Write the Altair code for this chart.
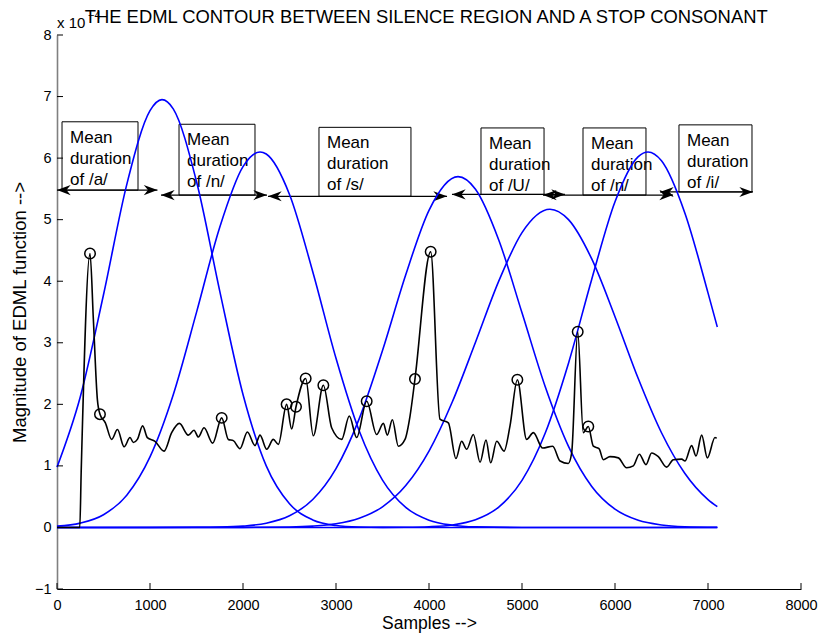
import altair as alt
import pandas as pd

FONT = "Liberation Sans"

# ---------------- data ----------------
# Blue window curves (x in samples, y in units of 1e-4)
c1_x = [0, 250, 500, 750, 1000, 1129, 1250, 1500, 1750, 2000, 2250, 2500, 2750, 3000, 3250, 3500, 4000, 5000, 7100]
c1_y = [0.98, 2.12, 3.78, 5.57, 6.77, 6.95, 6.80, 5.62, 3.84, 2.16, 1.00, 0.385, 0.122, 0.032, 0.007, 0.001, 0, 0, 0]
c2_x = [0, 250, 500, 750, 1000, 1250, 1500, 1750, 2000, 2183, 2250, 2500, 2750, 3000, 3250, 3500, 3750, 4000, 4250, 4500, 5000, 7100]
c2_y = [0.021, 0.070, 0.207, 0.525, 1.147, 2.157, 3.494, 4.876, 5.861, 6.10, 6.067, 5.410, 4.155, 2.748, 1.566, 0.769, 0.325, 0.118, 0.037, 0.010, 0, 0]
c3_x = [0, 1000, 1500, 1750, 2000, 2250, 2500, 2750, 3000, 3250, 3500, 3750, 4000, 4312, 4500, 4750, 5000, 5250, 5500, 5750, 6000, 6250, 6500, 6750, 7100]
c3_y = [0, 0, 0.002, 0.006, 0.022, 0.069, 0.189, 0.453, 0.955, 1.768, 2.875, 4.106, 5.152, 5.70, 5.495, 4.671, 3.487, 2.286, 1.317, 0.666, 0.296, 0.115, 0.040, 0.012, 0.002]
c4_x = [0, 2000, 2500, 2750, 3000, 3250, 3500, 3750, 4000, 4250, 4500, 4750, 5000, 5301, 5500, 5750, 6000, 6250, 6500, 6750, 7000, 7100]
c4_y = [0, 0.001, 0.007, 0.021, 0.059, 0.149, 0.335, 0.680, 1.240, 2.037, 3.009, 4.002, 4.790, 5.17, 5.000, 4.362, 3.424, 2.419, 1.538, 0.880, 0.453, 0.338]
c5_x = [0, 3000, 3500, 3750, 4000, 4250, 4500, 4750, 5000, 5250, 5500, 5750, 6000, 6250, 6355, 6500, 6750, 7000, 7100]
c5_y = [0, 0, 0.001, 0.003, 0.012, 0.041, 0.125, 0.331, 0.765, 1.534, 2.669, 4.033, 5.290, 6.024, 6.10, 5.957, 5.114, 3.811, 3.257]

# Black EDML contour
edml_x = [0, 245, 260, 355, 391, 434, 462, 520, 588, 650, 722, 785, 821, 864, 921, 971, 1054, 1151,
          1233, 1316, 1412, 1473, 1520, 1581, 1674, 1771, 1842, 1896, 1968, 2047, 2129, 2183, 2255,
          2326, 2380, 2469, 2523, 2570, 2674, 2756, 2864, 2953, 3061, 3143, 3222, 3330, 3437, 3509,
          3552, 3606, 3670, 3742, 3796, 3849, 4018, 4118, 4208, 4290, 4351, 4405, 4477, 4549, 4613,
          4663, 4728, 4807, 4871, 4950, 5050, 5122, 5222, 5330, 5409, 5498, 5534, 5599, 5659, 5713,
          5767, 5828, 5875, 5946, 6036, 6125, 6197, 6262, 6333, 6394, 6466, 6556, 6627, 6717, 6753,
          6824, 6871, 6932, 6993, 7075, 7093]
edml_y = [0, 0, 0.9, 4.45, 3.38, 2.08, 1.84, 1.70, 1.43, 1.59, 1.31, 1.46, 1.38, 1.43, 1.65, 1.46, 1.40, 1.24,
          1.54, 1.69, 1.50, 1.58, 1.47, 1.62, 1.37, 1.78, 1.43, 1.41, 1.28, 1.55, 1.33, 1.50, 1.27,
          1.43, 1.35, 2.00, 1.60, 1.96, 2.42, 1.49, 2.31, 1.62, 1.43, 1.81, 1.46, 2.05, 1.51, 1.69,
          1.50, 1.75, 1.32, 1.43, 1.81, 2.41, 4.48, 1.76, 1.70, 1.12, 1.40, 1.27, 1.51, 1.06, 1.42,
          1.05, 1.40, 1.24, 1.65, 2.40, 1.43, 1.54, 1.29, 1.32, 1.08, 1.04, 1.21, 3.18, 1.54, 1.64,
          1.32, 1.28, 1.10, 1.15, 1.13, 0.97, 1.00, 1.19, 1.02, 1.21, 1.15, 0.98, 1.10, 1.11, 1.08,
          1.33, 1.16, 1.50, 1.13, 1.46, 1.45]

# Marked peaks (circles)
peak_x = [355, 462, 1771, 2469, 2570, 2674, 2864, 3330, 3849, 4018, 4950, 5599, 5713]
peak_y = [4.45, 1.84, 1.78, 2.00, 1.96, 2.42, 2.31, 2.05, 2.41, 4.48, 2.40, 3.18, 1.64]

# Annotation boxes
phonemes = ["/a/", "/n/", "/s/", "/U/", "/n/", "/i/"]
box_x1 = [54, 1312, 2817, 4559, 5656, 6688]
box_x2 = [871, 2129, 3806, 5237, 6333, 7473]
box_top = [6.59, 6.55, 6.50, 6.49, 6.49, 6.54]
box_bot = [5.48, 5.40, 5.38, 5.41, 5.40, 5.45]

# Double-headed arrows
arr_x1 = [0, 1118, 2269, 4247, 5226, 6484]
arr_x2 = [1080, 2258, 4194, 5462, 6624, 7484]
arr_y = [5.48, 5.40, 5.38, 5.41, 5.40, 5.45]

x_ticks = [0, 1000, 2000, 3000, 4000, 5000, 6000, 7000, 8000]
y_ticks = [-1, 0, 1, 2, 3, 4, 5, 6, 7, 8]

TITLE = "THE EDML CONTOUR BETWEEN SILENCE REGION AND A STOP CONSONANT"

# ---------------- build tables ----------------
curves = []
for i, (xs, ys) in enumerate([(c1_x, c1_y), (c2_x, c2_y), (c3_x, c3_y), (c4_x, c4_y), (c5_x, c5_y)]):
    for a, b in zip(xs, ys):
        curves.append({"curve": i, "x": a, "y": b})
curves_df = pd.DataFrame(curves)
edml_df = pd.DataFrame({"x": edml_x, "y": edml_y})
peaks_df = pd.DataFrame({"x": peak_x, "y": peak_y})
boxes_df = pd.DataFrame({
    "x": box_x1, "x2": box_x2, "y": box_top, "y2": box_bot,
    "label": ["Mean\nduration\nof " + p for p in phonemes],
})
arrows_df = pd.DataFrame({"x": arr_x1, "x2": arr_x2, "y": arr_y})
left_heads = pd.DataFrame({"x": arr_x1, "y": arr_y})
right_heads = pd.DataFrame({"x": arr_x2, "y": arr_y})

X = alt.X("x:Q", scale=alt.Scale(domain=[0, 8000], nice=False, zero=False),
          axis=alt.Axis(values=x_ticks, format="d", title="Samples -->", ticks=False, tickSize=0, grid=False,
                        labelPadding=9, labelFontSize=14.5, labelFont=FONT, labelColor="black",
                        labelFlush=False, labelOverlap=False, labelBound=False,
                        domainColor="black", domainWidth=1.2,
                        titleFont=FONT, titleFontSize=17.5, titleFontWeight="normal", titleColor="black",
                        titleX=372, titleY=39, titleBaseline="alphabetic", titleAlign="center"))
Y = alt.Y("y:Q", scale=alt.Scale(domain=[-1, 8], nice=False, zero=False),
          axis=alt.Axis(values=y_ticks, format="d", title="Magnitude of EDML function -->", ticks=False,
                        tickSize=0, grid=False, labelPadding=6, labelFontSize=14.5, labelFont=FONT,
                        labelColor="black", labelFlush=False, labelOverlap=False, labelBound=False,
                        domainColor="#808080", domainWidth=1.6,
                        titleFont=FONT, titleFontSize=18.5, titleFontWeight="normal", titleColor="black",
                        titleX=-38, titleY=277, titleAngle=270, titleBaseline="middle", titleAlign="center"))

base_x_ticks = alt.Chart(pd.DataFrame({"x": x_ticks})).mark_rule(color="black", strokeWidth=1).encode(
    x=X, y=alt.value(554), y2=alt.value(548))
base_y_ticks = alt.Chart(pd.DataFrame({"y": y_ticks})).mark_rule(color="black", strokeWidth=1).encode(
    y=Y, x=alt.value(0), x2=alt.value(6))

boxes = alt.Chart(boxes_df).mark_rect(fillOpacity=0, stroke="black", strokeWidth=1).encode(
    x=X, x2="x2:Q", y=Y, y2="y2:Q")
box_text = alt.Chart(boxes_df).mark_text(
    align="left", baseline="alphabetic", dx=8, dy=21, fontSize=17, font=FONT, color="black",
    lineBreak="\n", lineHeight=21).encode(x=X, y=Y, text="label:N")

arrows = alt.Chart(arrows_df).mark_rule(color="black", strokeWidth=1.2).encode(x=X, x2="x2:Q", y=Y)
RIGHT = "M0,0L-2.1,-0.78L-1.45,0L-2.1,0.78Z"
LEFT = "M0,0L2.1,-0.78L1.45,0L2.1,0.78Z"
lh = alt.Chart(left_heads).mark_point(shape=LEFT, filled=True, fill="black", size=170,
                                      opacity=1, strokeWidth=0).encode(x=X, y=Y)
rh = alt.Chart(right_heads).mark_point(shape=RIGHT, filled=True, fill="black", size=170,
                                       opacity=1, strokeWidth=0).encode(x=X, y=Y)

blue = alt.Chart(curves_df).mark_line(color="#0000ff", strokeWidth=1.6, interpolate="monotone").encode(
    x=X, y=Y, detail="curve:N")
black = alt.Chart(edml_df).mark_line(color="black", strokeWidth=1.6, interpolate="monotone").encode(
    x=X, y=Y)
circles = alt.Chart(peaks_df).mark_point(shape="circle", filled=False, color="black", size=110,
                                         strokeWidth=1.5, opacity=1).encode(x=X, y=Y)

title_df = pd.DataFrame({"x": [3970], "y": [8], "t": [TITLE]})
title = alt.Chart(title_df).mark_text(align="center", baseline="alphabetic", dy=-12, fontSize=18.4,
                                      font=FONT, color="black").encode(x=X, y=Y, text="t:N")
exp_df = pd.DataFrame({"x": [0], "y": [8], "t": ["x 10"], "e": ["\u22124"]})
exp1 = alt.Chart(exp_df).mark_text(align="left", baseline="alphabetic", dy=-7, fontSize=15,
                                   font=FONT, color="black").encode(x=X, y=Y, text="t:N")
exp2 = alt.Chart(exp_df).mark_text(align="left", baseline="alphabetic", dx=31, dy=-16, fontSize=11,
                                   font=FONT, color="black").encode(x=X, y=Y, text="e:N")

chart = alt.layer(
    boxes, box_text, arrows, lh, rh, blue, black, circles,
    base_x_ticks, base_y_ticks, title, exp1, exp2
).properties(
    width=744, height=554,
    padding={"left": 57, "top": 35, "right": 18, "bottom": 45},
    autosize="none",
    background="white",
).configure_view(stroke=None)

chart.save("out.html", embed_options={"renderer": "svg", "actions": False})
